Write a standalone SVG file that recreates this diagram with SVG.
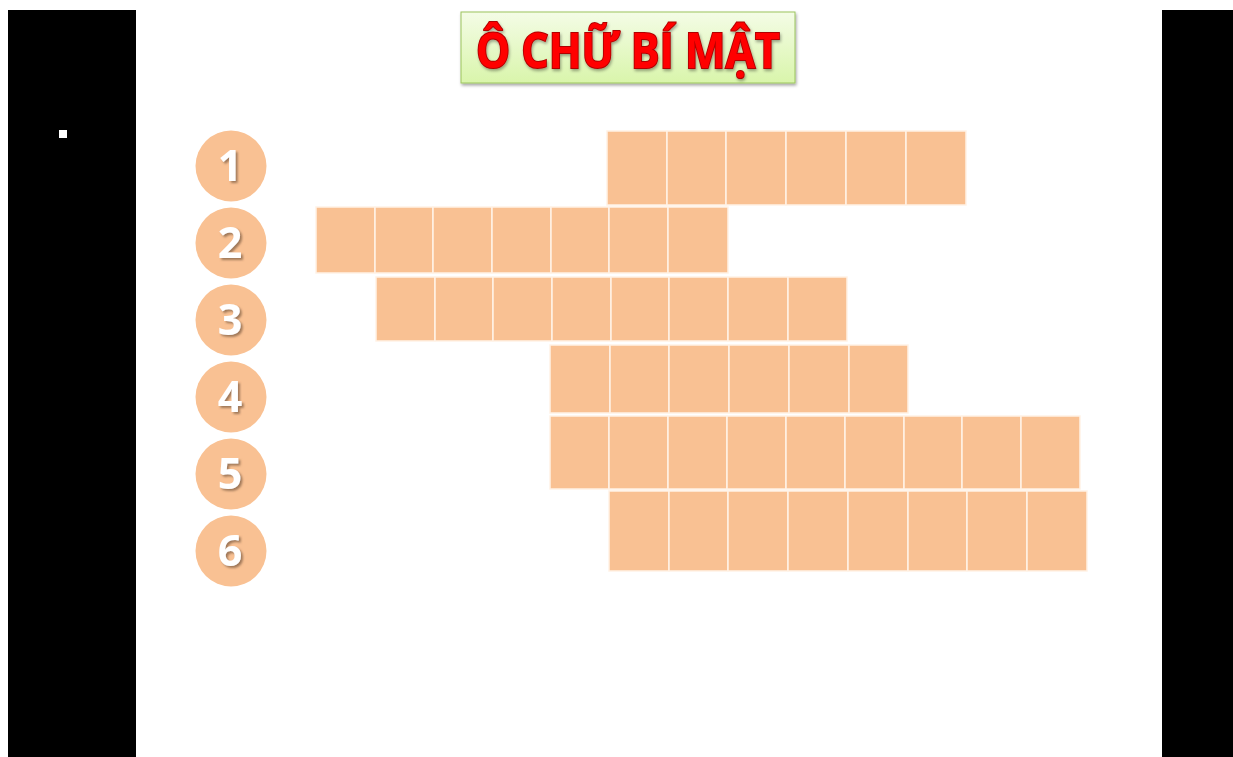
<svg xmlns="http://www.w3.org/2000/svg" width="1233" height="757" viewBox="0 0 1233 757">
<defs>
<linearGradient id="tg" x1="0" y1="0" x2="0" y2="1">
<stop offset="0" stop-color="#f4fce6"/>
<stop offset="1" stop-color="#d9f5ab"/>
</linearGradient>
<filter id="sh" x="-10%" y="-10%" width="130%" height="130%">
<feDropShadow dx="1" dy="2" stdDeviation="1.5" flood-color="#000" flood-opacity="0.35"/>
</filter>
<filter id="nsh" x="-20%" y="-20%" width="150%" height="150%">
<feDropShadow dx="2" dy="2" stdDeviation="1" flood-color="#7a5a40" flood-opacity="0.7"/>
</filter>
</defs>
<style>
.c{fill:#f9c193;stroke:#fff2e6;stroke-width:1.5}
.circ{fill:#f9c193}
.num{font-family:"Open Sans","Liberation Sans",sans-serif;font-weight:bold;font-size:43px;fill:#fff;text-anchor:middle}
.ttl{font-family:"Open Sans","Liberation Sans",sans-serif;font-weight:bold;font-size:49px;fill:#ff0000;stroke:#b00000;stroke-width:2;paint-order:stroke;text-anchor:middle}
</style>
<rect width="1233" height="757" fill="#fff"/>
<rect x="8" y="10" width="128" height="747" fill="#000"/>
<rect x="1162" y="10" width="71" height="747" fill="#000"/>
<rect x="59" y="130" width="8" height="8" fill="#fff"/>
<g id="title">
<rect x="461" y="12" width="334" height="71" fill="url(#tg)" stroke="#9bc45c" stroke-width="1" filter="url(#sh)"/>
<text class="ttl" x="628" y="68" textLength="304" lengthAdjust="spacingAndGlyphs" filter="url(#sh)">Ô CHỮ BÍ MẬT</text>
</g>
<g id="n1"><circle class="circ" cx="231" cy="166" r="35.5"/><text class="num" x="230" y="181" filter="url(#nsh)">1</text></g>
<g id="n2"><circle class="circ" cx="231" cy="243" r="35.5"/><text class="num" x="230" y="258" filter="url(#nsh)">2</text></g>
<g id="n3"><circle class="circ" cx="231" cy="320" r="35.5"/><text class="num" x="230" y="335" filter="url(#nsh)">3</text></g>
<g id="n4"><circle class="circ" cx="231" cy="397" r="35.5"/><text class="num" x="230" y="412" filter="url(#nsh)">4</text></g>
<g id="n5"><circle class="circ" cx="231" cy="474" r="35.5"/><text class="num" x="230" y="489" filter="url(#nsh)">5</text></g>
<g id="n6"><circle class="circ" cx="231" cy="551" r="35.5"/><text class="num" x="230" y="566" filter="url(#nsh)">6</text></g>
<g id="row1">
<rect class="c" x="607" y="131" width="60" height="74"/>
<rect class="c" x="667" y="131" width="59" height="74"/>
<rect class="c" x="726" y="131" width="60" height="74"/>
<rect class="c" x="786" y="131" width="60" height="74"/>
<rect class="c" x="846" y="131" width="60" height="74"/>
<rect class="c" x="906" y="131" width="60" height="74"/>
</g>
<g id="row2">
<rect class="c" x="316" y="207" width="59" height="66"/>
<rect class="c" x="375" y="207" width="58" height="66"/>
<rect class="c" x="433" y="207" width="59" height="66"/>
<rect class="c" x="492" y="207" width="59" height="66"/>
<rect class="c" x="551" y="207" width="58" height="66"/>
<rect class="c" x="609" y="207" width="59" height="66"/>
<rect class="c" x="668" y="207" width="60" height="66"/>
</g>
<g id="row3">
<rect class="c" x="376" y="277" width="59" height="64"/>
<rect class="c" x="435" y="277" width="58" height="64"/>
<rect class="c" x="493" y="277" width="59" height="64"/>
<rect class="c" x="552" y="277" width="59" height="64"/>
<rect class="c" x="611" y="277" width="58" height="64"/>
<rect class="c" x="669" y="277" width="59" height="64"/>
<rect class="c" x="728" y="277" width="60" height="64"/>
<rect class="c" x="788" y="277" width="59" height="64"/>
</g>
<g id="row4">
<rect class="c" x="550" y="345" width="60" height="68"/>
<rect class="c" x="610" y="345" width="59" height="68"/>
<rect class="c" x="669" y="345" width="60" height="68"/>
<rect class="c" x="729" y="345" width="60" height="68"/>
<rect class="c" x="789" y="345" width="60" height="68"/>
<rect class="c" x="849" y="345" width="59" height="68"/>
</g>
<g id="row5">
<rect class="c" x="550" y="416" width="59" height="73"/>
<rect class="c" x="609" y="416" width="59" height="73"/>
<rect class="c" x="668" y="416" width="59" height="73"/>
<rect class="c" x="727" y="416" width="59" height="73"/>
<rect class="c" x="786" y="416" width="59" height="73"/>
<rect class="c" x="845" y="416" width="59" height="73"/>
<rect class="c" x="904" y="416" width="58" height="73"/>
<rect class="c" x="962" y="416" width="59" height="73"/>
<rect class="c" x="1021" y="416" width="59" height="73"/>
</g>
<g id="row6">
<rect class="c" x="609" y="491" width="60" height="80"/>
<rect class="c" x="669" y="491" width="59" height="80"/>
<rect class="c" x="728" y="491" width="60" height="80"/>
<rect class="c" x="788" y="491" width="60" height="80"/>
<rect class="c" x="848" y="491" width="60" height="80"/>
<rect class="c" x="908" y="491" width="59" height="80"/>
<rect class="c" x="967" y="491" width="60" height="80"/>
<rect class="c" x="1027" y="491" width="60" height="80"/>
</g>
</svg>
